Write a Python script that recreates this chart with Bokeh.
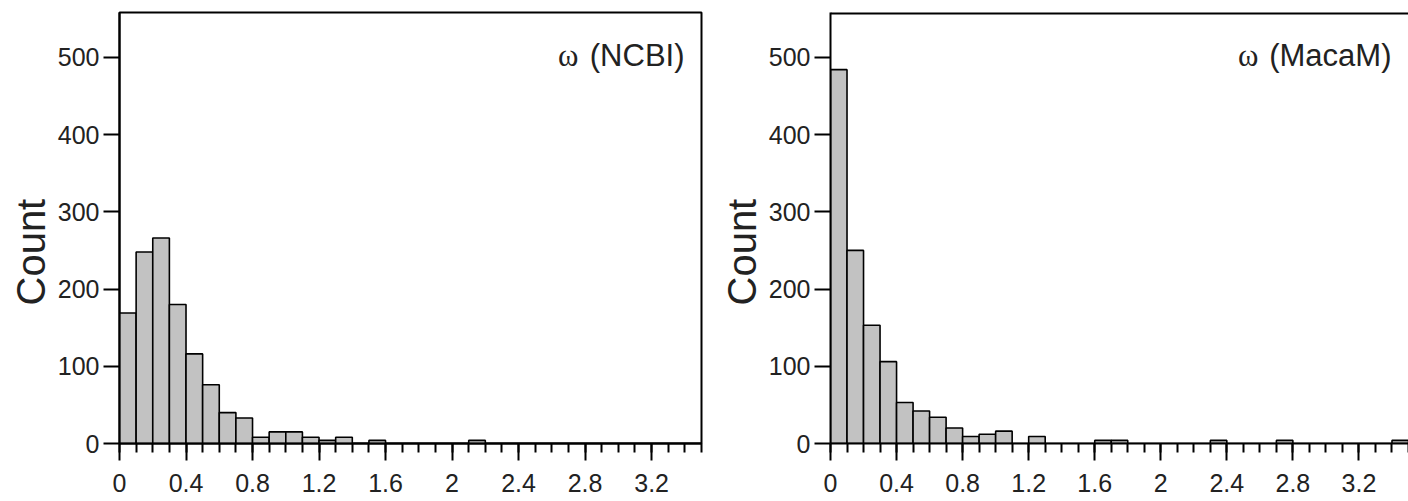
import math
from bokeh.plotting import figure
from bokeh.models import Range1d, FixedTicker, Label, Span, Title
from bokeh.layouts import row
from bokeh.embed import file_html
from bokeh.resources import INLINE

# ---- data ----
bin_edges = [round(0.1 * i, 1) for i in range(36)]  # 0.0 .. 3.5, bin width 0.1
ncbi_counts = [169, 248, 266, 180, 116, 76, 40, 33, 8, 15,
               15, 8, 4, 8, 0, 4, 0, 0, 0, 0,
               0, 4, 0, 0, 0, 0, 0, 0, 0, 0,
               0, 0, 0, 0, 0]
macam_counts = [484, 250, 153, 106, 53, 42, 34, 20, 9, 12,
                16, 0, 9, 0, 0, 0, 4, 4, 0, 0,
                0, 0, 0, 4, 0, 0, 0, 4, 0, 0,
                0, 0, 0, 0, 4]
panel_names = ["(NCBI)", "(MacaM)"]
x_tick_values = [0, 0.4, 0.8, 1.2, 1.6, 2, 2.4, 2.8, 3.2]
x_tick_labels = ["0", "0.4", "0.8", "1.2", "1.6", "2", "2.4", "2.8", "3.2"]
x_minor_values = [round(0.1 * i, 1) for i in range(36)]
y_tick_values = [0, 100, 200, 300, 400, 500]
y_axis_title = "Count"

SANS = "Liberation Sans"
SERIF = "Liberation Serif"
TXT = "#222222"
Y_MAX = 558


def make_panel(counts, name, width, b_right, full_outline, omega_off):
    p = figure(width=width, height=501,
               x_range=Range1d(0, 3.5), y_range=Range1d(0, Y_MAX),
               output_backend="svg", toolbar_location=None,
               min_border_left=119, min_border_right=b_right,
               min_border_top=12, min_border_bottom=58,
               background_fill_color="white", border_fill_color="white")
    p.grid.visible = False
    if full_outline:
        p.outline_line_color = "black"
        p.outline_line_width = 2
    else:
        p.outline_line_color = None
        p.add_layout(Span(location=Y_MAX, dimension="width",
                          line_color="black", line_width=4))

    p.quad(left=bin_edges[:-1], right=bin_edges[1:], bottom=0, top=counts,
           fill_color="#c2c2c2", line_color="black", line_width=1.6)

    xa = p.xaxis[0]
    xa.ticker = FixedTicker(ticks=x_tick_values, minor_ticks=x_minor_values)
    xa.major_label_overrides = dict(zip(x_tick_values, x_tick_labels))
    xa.axis_line_width = 2
    xa.major_tick_line_width = 2
    xa.minor_tick_line_width = 2
    xa.major_tick_out = 17
    xa.major_tick_in = 0
    xa.minor_tick_out = 9
    xa.minor_tick_in = 0
    xa.major_label_standoff = 13
    xa.major_label_text_font = SANS
    xa.major_label_text_font_size = "25px"
    xa.major_label_text_color = TXT

    ya = p.yaxis[0]
    ya.ticker = FixedTicker(ticks=y_tick_values, minor_ticks=[])
    ya.axis_line_width = 2
    ya.major_tick_line_width = 2
    ya.minor_tick_line_color = None
    ya.major_tick_out = 16
    ya.major_tick_in = 0
    ya.major_label_standoff = 4
    ya.major_label_text_font = SANS
    ya.major_label_text_font_size = "25px"
    ya.major_label_text_color = TXT

    p.add_layout(Title(text=y_axis_title, align="left", offset=138,
                       standoff=4, text_font=SANS, text_font_size="40px",
                       text_font_style="normal", text_color=TXT), "left")

    p.add_layout(Label(x=3.5, y=502, x_offset=-17, text=name,
                       text_font=SANS, text_font_size="31px",
                       text_align="right", text_baseline="alphabetic",
                       text_color=TXT))
    p.add_layout(Label(x=3.5, y=502, x_offset=omega_off, text="ω",
                       text_font=SERIF, text_font_size="31px",
                       text_align="right", text_baseline="alphabetic",
                       text_color=TXT))
    return p


p1 = make_panel(ncbi_counts, panel_names[0], 711, 10, True, -123)
p2 = make_panel(macam_counts, panel_names[1], 697, 0, False, -150)

layout = row(p1, p2)
open("out.html", "w").write(file_html(layout, INLINE))
